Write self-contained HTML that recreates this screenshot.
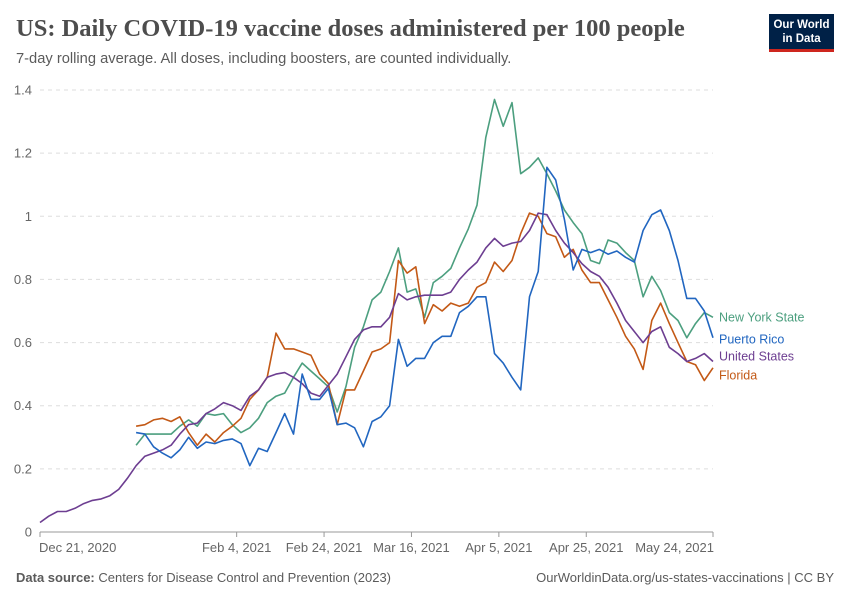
<!DOCTYPE html>
<html><head><meta charset="utf-8"><style>
body{margin:0;background:#fff;font-family:"Liberation Sans",sans-serif;}
#wrap{position:relative;width:850px;height:600px;overflow:hidden;}
.t{position:absolute;white-space:nowrap;}
</style></head><body>
<div id="wrap">
<div class="t" style="left:16px;top:15px;font-family:'Liberation Serif',serif;font-size:24.5px;font-weight:bold;color:#4d4d4d;">US: Daily COVID-19 vaccine doses administered per 100 people</div>
<div class="t" style="left:16px;top:51px;font-size:14.7px;color:#5b5b5b;">7-day rolling average. All doses, including boosters, are counted individually.</div>
<div style="position:absolute;left:769px;top:14px;width:65px;height:38px;background:#002147;border-bottom:3px solid #ce261e;color:#fff;font-size:11.5px;line-height:14px;text-align:center;padding-top:4px;box-sizing:border-box;font-weight:bold;">Our World<br>in Data</div>
<svg id="chart" width="850" height="600" style="position:absolute;left:0;top:0;"></svg>
<div class="t" style="left:16px;top:570px;font-size:13px;color:#5b5b5b;"><b>Data source:</b> Centers for Disease Control and Prevention (2023)</div>
<div class="t" style="right:16px;top:570px;font-size:13px;color:#5b5b5b;">OurWorldinData.org/us-states-vaccinations | CC BY</div>
</div>
<script>
const yTicks=[0,0.2,0.4,0.6,0.8,1,1.2,1.4];
const yTickLabels=["0","0.2","0.4","0.6","0.8","1","1.2","1.4"];
const xTickDays=[0,45,65,85,105,125,154];
const xTickLabels=["Dec 21, 2020","Feb 4, 2021","Feb 24, 2021","Mar 16, 2021","Apr 5, 2021","Apr 25, 2021","May 24, 2021"];
const stepDays=2;
const usStart=0;
const usValues=[0.03,0.05,0.065,0.065,0.075,0.09,0.10,0.105,0.115,0.135,0.17,0.21,0.24,0.25,0.26,0.275,0.31,0.34,0.345,0.375,0.39,0.41,0.40,0.385,0.43,0.45,0.49,0.50,0.505,0.49,0.47,0.44,0.43,0.465,0.50,0.555,0.61,0.64,0.65,0.65,0.68,0.755,0.735,0.745,0.75,0.75,0.75,0.76,0.80,0.83,0.855,0.90,0.93,0.905,0.915,0.92,0.955,1.01,1.005,0.955,0.915,0.885,0.85,0.825,0.81,0.775,0.725,0.67,0.635,0.60,0.635,0.65,0.585,0.565,0.54,0.55,0.565,0.54];
const stateStart=22;
const nyValues=[0.275,0.31,0.31,0.31,0.31,0.335,0.355,0.335,0.375,0.37,0.375,0.34,0.315,0.33,0.36,0.41,0.43,0.44,0.49,0.535,0.51,0.485,0.46,0.38,0.46,0.585,0.65,0.735,0.76,0.825,0.9,0.76,0.77,0.68,0.79,0.81,0.835,0.90,0.96,1.035,1.25,1.37,1.285,1.36,1.135,1.155,1.185,1.135,1.08,1.02,0.98,0.945,0.86,0.85,0.925,0.915,0.885,0.86,0.745,0.81,0.765,0.695,0.67,0.615,0.66,0.695,0.68];
const flValues=[0.335,0.34,0.355,0.36,0.35,0.365,0.315,0.275,0.31,0.285,0.315,0.335,0.36,0.42,0.45,0.49,0.63,0.58,0.58,0.57,0.56,0.50,0.47,0.34,0.45,0.45,0.51,0.57,0.58,0.60,0.86,0.82,0.84,0.66,0.72,0.70,0.725,0.715,0.725,0.775,0.79,0.855,0.825,0.86,0.945,1.01,1.0,0.945,0.935,0.87,0.895,0.83,0.79,0.79,0.735,0.68,0.62,0.58,0.515,0.67,0.725,0.66,0.60,0.54,0.53,0.48,0.52];
const prValues=[0.315,0.31,0.27,0.25,0.235,0.26,0.30,0.265,0.285,0.28,0.29,0.295,0.28,0.21,0.265,0.255,0.315,0.375,0.31,0.50,0.42,0.42,0.455,0.34,0.345,0.33,0.27,0.35,0.365,0.40,0.61,0.525,0.55,0.55,0.60,0.62,0.62,0.695,0.715,0.745,0.745,0.565,0.535,0.49,0.45,0.745,0.825,1.155,1.115,0.99,0.83,0.895,0.885,0.895,0.88,0.89,0.87,0.855,0.955,1.005,1.02,0.955,0.86,0.74,0.74,0.70,0.615];
const seriesNames=["New York State","Puerto Rico","United States","Florida"];
const seriesColors=["#4c9f7f","#2166c0","#6d3e91","#c35916"];
const labelY=[317,339,356,375];

const L=40,R=713,T=90,B=532,dMax=154,vMax=1.4;
const xS=d=>L+(R-L)*d/dMax;
const yS=v=>B-(B-T)*v/vMax;
const svg=document.getElementById('chart');
const NS="http://www.w3.org/2000/svg";
function mk(tag,at){const e=document.createElementNS(NS,tag);for(const k in at)e.setAttribute(k,at[k]);svg.appendChild(e);return e;}
yTicks.forEach((v,i)=>{
  const g=mk('line',{x1:L,x2:R,y1:yS(v),y2:yS(v),stroke:'#ddd','stroke-dasharray':v===0?'':'4,4','stroke-width':1});
  
  
  const t=mk('text',{x:32,y:yS(v)+4.5,'text-anchor':'end','font-size':13,fill:'#666','font-family':'Liberation Sans, sans-serif'});
  t.textContent=yTickLabels[i];
  
  
});
mk('line',{x1:L,x2:R,y1:B,y2:B,stroke:'#999'});
xTickDays.forEach((d,i)=>{
  const x=xS(d);
  const anchor=i===0?'start':(i===xTickDays.length-1?'end':'middle');
  const tk=mk('line',{x1:x,x2:x,y1:B,y2:B+5,stroke:'#999'});
  
  
  const t=mk('text',{x:i===0?x-1:x+(i===xTickDays.length-1?1:0),y:552,'text-anchor':anchor,'font-size':13,fill:'#666','font-family':'Liberation Sans, sans-serif'});
  t.textContent=xTickLabels[i];
  
  
});
function line(vals,start,color,name){
  const pts=vals.map((v,i)=>xS(start+i*stepDays).toFixed(1)+','+yS(v).toFixed(1)).join(' ');
  const p=mk('polyline',{points:pts,fill:'none',stroke:color,'stroke-width':1.6,'stroke-linejoin':'round'});
  
  
}
line(nyValues,stateStart,seriesColors[0],'new-york-line');
line(flValues,stateStart,seriesColors[3],'florida-line');
line(usValues,usStart,seriesColors[2],'united-states-line');
line(prValues,stateStart,seriesColors[1],'puerto-rico-line');
seriesNames.forEach((n,i)=>{
  const t=mk('text',{x:719,y:labelY[i]+4.5,'font-size':12.5,fill:seriesColors[i],'font-family':'Liberation Sans, sans-serif'});
  t.textContent=n;
  
  
});
</script>
</body></html>
